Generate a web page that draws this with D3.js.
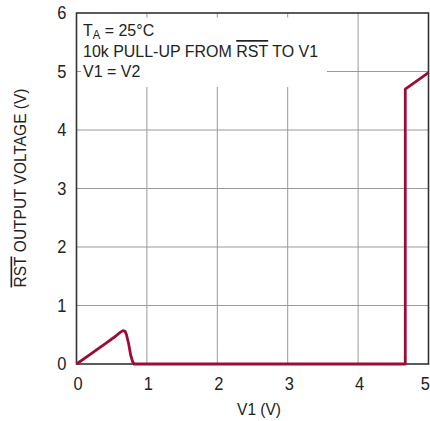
<!DOCTYPE html>
<html>
<head>
<meta charset="utf-8">
<script src="https://cdn.jsdelivr.net/npm/d3@7"></script>
<style>
  body { margin: 0; background: #fff; }
  svg text { font-family: "Liberation Sans Narrow", "Arial Narrow", "Liberation Sans", sans-serif; fill: #222; }
</style>
</head>
<body>
<div id="chart"></div>
<script>
// data
const v1 = [0, 0.2, 0.4, 0.55, 0.62, 0.66, 0.69, 0.71, 0.74, 0.77, 0.8, 0.82, 4.67, 4.67, 5.0];
const rstOut = [0, 0.17, 0.34, 0.47, 0.54, 0.57, 0.56, 0.5, 0.35, 0.15, 0.03, 0, 0, 4.7, 4.98];
const xTicks = [0, 1, 2, 3, 4, 5];
const yTicks = [0, 1, 2, 3, 4, 5, 6];

const width = 430, height = 421;
const margin = { top: 13, right: 1.5, bottom: 57, left: 76.5 };
const narrow = 0.94; // squeeze text a bit, no condensed font here

const svg = d3.select("#chart").append("svg")
  .attr("width", width)
  .attr("height", height);

const x = d3.scaleLinear().domain([0, 5]).range([margin.left, width - margin.right]);
const y = d3.scaleLinear().domain([0, 6]).range([height - margin.bottom, margin.top]);

// grid
svg.append("g")
  .selectAll("line")
  .data(xTicks.slice(1, -1))
  .join("line")
  .attr("x1", d => x(d)).attr("x2", d => x(d))
  .attr("y1", y(6)).attr("y2", y(0))
  .attr("stroke", "#999").attr("stroke-width", 1);

svg.append("g")
  .selectAll("line")
  .data(yTicks.slice(1, -1))
  .join("line")
  .attr("x1", x(0)).attr("x2", x(5))
  .attr("y1", d => y(d)).attr("y2", d => y(d))
  .attr("stroke", "#999").attr("stroke-width", 1);

// white box behind the note
svg.append("rect")
  .attr("x", 81).attr("y", 17.5)
  .attr("width", 246).attr("height", 69.5)
  .attr("fill", "#fff");

// frame
svg.append("rect")
  .attr("x", x(0)).attr("y", y(6))
  .attr("width", x(5) - x(0)).attr("height", y(0) - y(6))
  .attr("fill", "none")
  .attr("stroke", "#333").attr("stroke-width", 1.6);

// helper: text placed with a horizontal squeeze
function place(sel, tx, ty, rot) {
  return sel.attr("transform", `translate(${tx},${ty})` + (rot ? ` rotate(${rot})` : "") + ` scale(${narrow},1)`);
}

// tick labels
svg.append("g")
  .selectAll("text")
  .data(xTicks)
  .join("text")
  .attr("transform", d => d === 5
    ? `translate(${width},${y(0) + 26}) scale(${narrow},1)`
    : `translate(${x(d) + 1.5},${y(0) + 26}) scale(${narrow},1)`)
  .attr("text-anchor", d => d === 5 ? "end" : "middle")
  .attr("font-size", 17.5)
  .text(d => d);

svg.append("g")
  .selectAll("text")
  .data(yTicks)
  .join("text")
  .attr("transform", d => `translate(${x(0) - 10},${y(d) + 6}) scale(${narrow},1)`)
  .attr("text-anchor", "end")
  .attr("font-size", 17.5)
  .text(d => d);

// axis titles
place(svg.append("text"), 259, 415)
  .attr("text-anchor", "middle")
  .attr("font-size", 16.5)
  .text("V1 (V)");

const yt = place(svg.append("text"), 26, 188, -90)
  .attr("text-anchor", "middle")
  .attr("font-size", 16.5);
yt.append("tspan").attr("text-decoration", "overline").text("RST");
yt.append("tspan").text(" OUTPUT VOLTAGE (V)");

// note lines
const fs = 17;
const t1 = place(svg.append("text"), 83, 36).attr("font-size", fs);
t1.append("tspan").text("T");
t1.append("tspan").attr("font-size", 12).attr("dy", 3).text("A");
t1.append("tspan").attr("dy", -3).text(" = 25°C");

const t2 = place(svg.append("text"), 83, 56.5).attr("font-size", fs);
t2.append("tspan").text("10k PULL-UP FROM ");
t2.append("tspan").attr("text-decoration", "overline").text("RST");
t2.append("tspan").text(" TO V1");

place(svg.append("text"), 83, 77).attr("font-size", fs).text("V1 = V2");

// curve
const pts = v1.map((d, i) => [d, rstOut[i]]);
const line = d3.line()
  .x(d => x(d[0]))
  .y(d => y(d[1]))
  .curve(d3.curveLinear);

svg.append("path")
  .datum(pts)
  .attr("d", line)
  .attr("fill", "none")
  .attr("stroke", "#9b0c36")
  .attr("stroke-width", 2.8)
  .attr("stroke-linejoin", "round");
</script>
</body>
</html>
